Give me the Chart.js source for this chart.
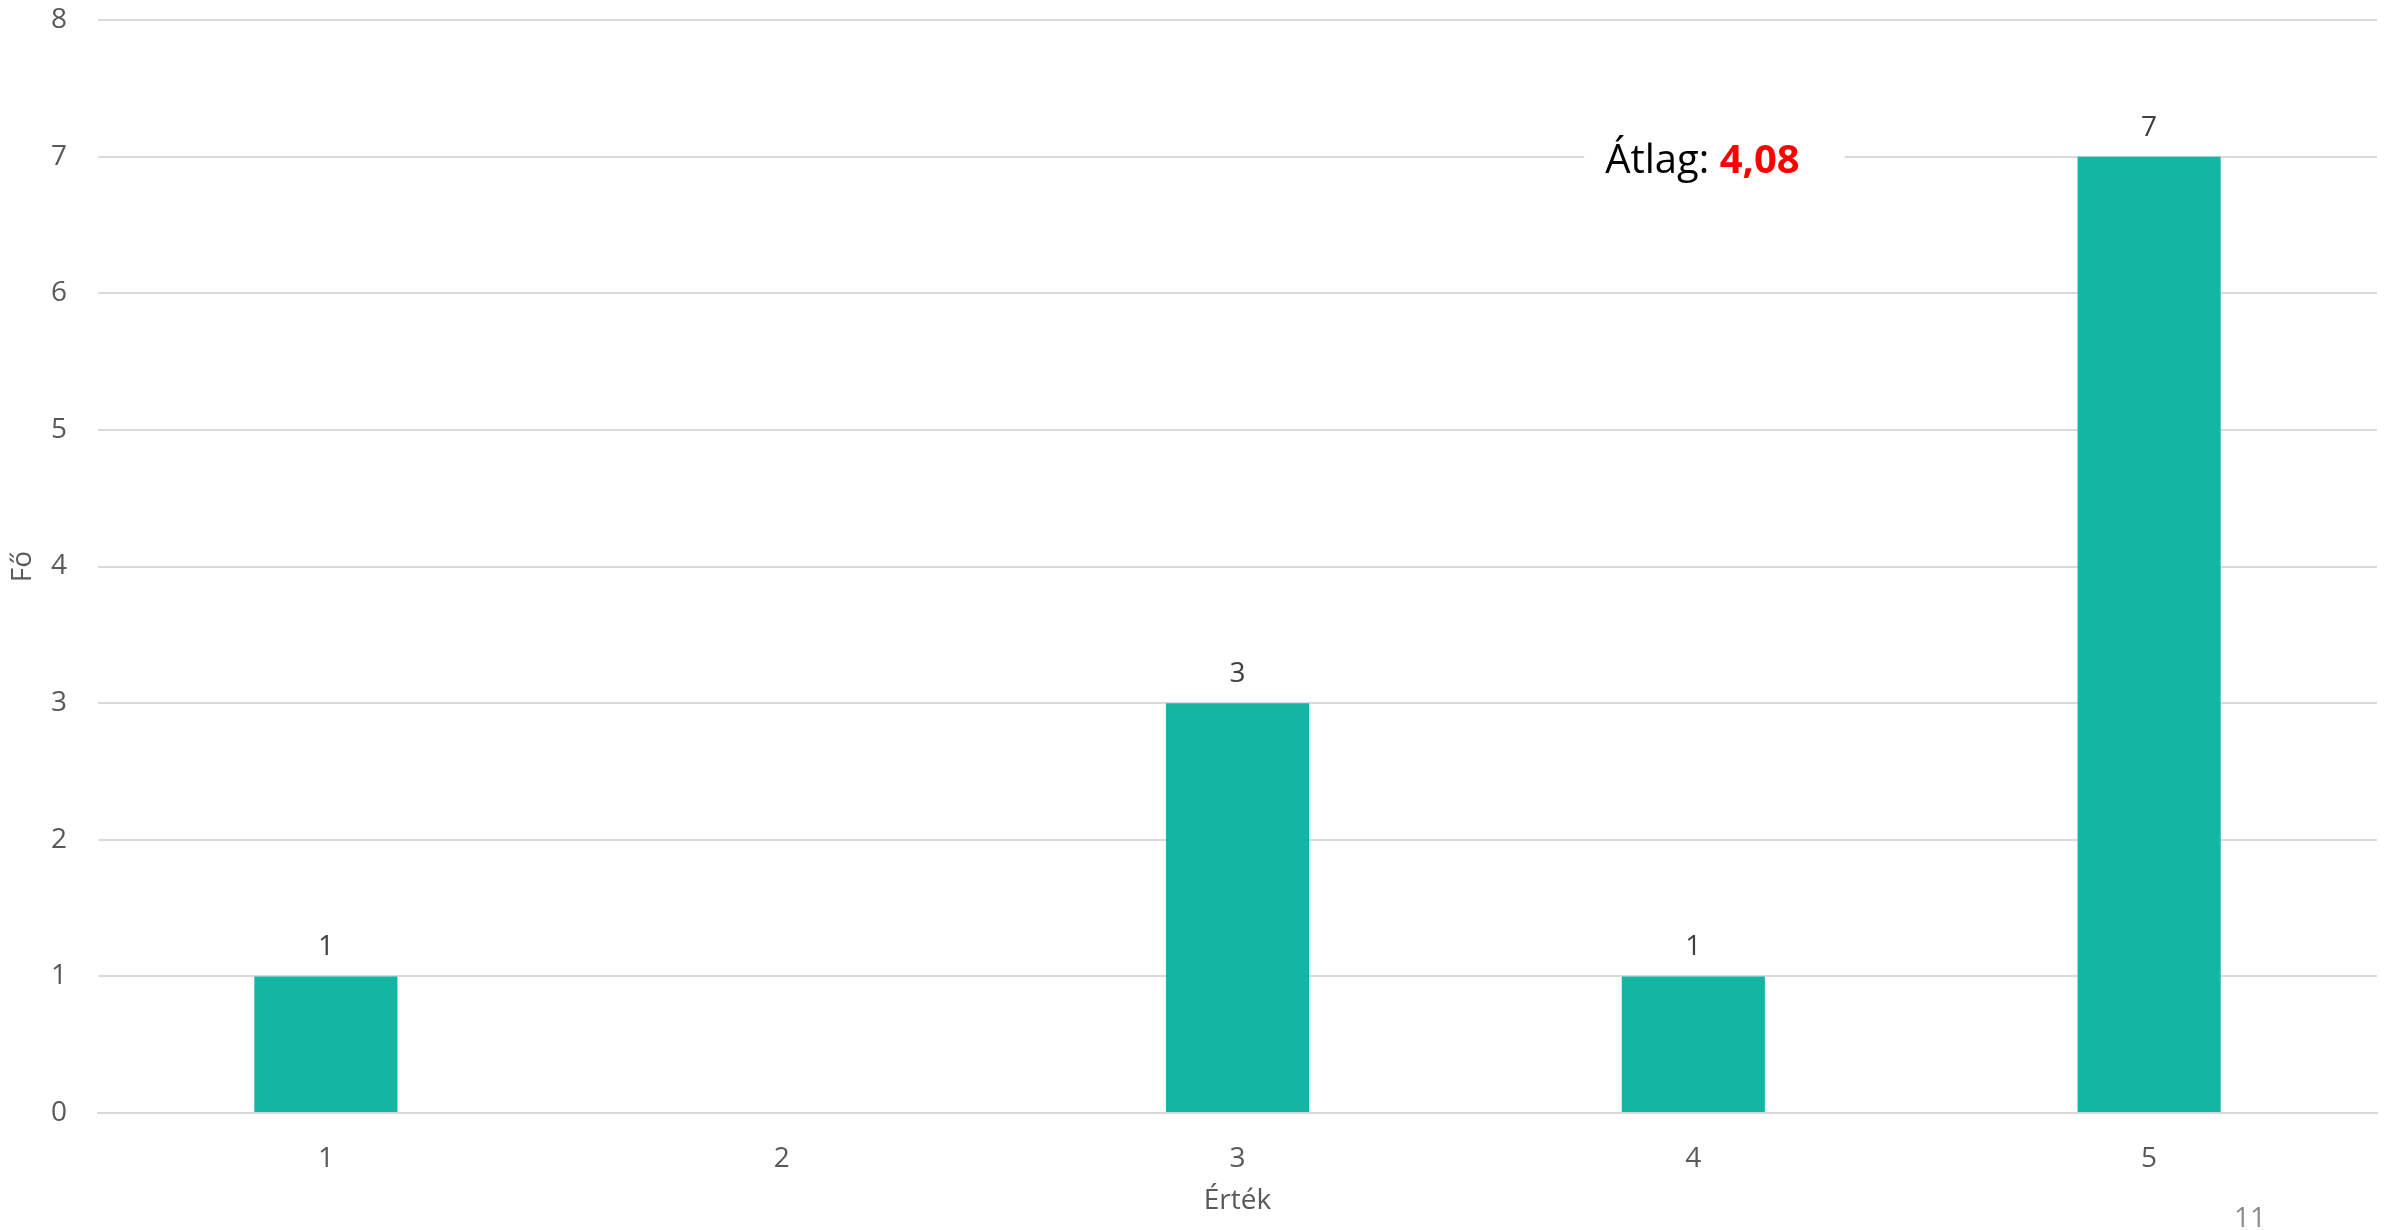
<!DOCTYPE html>
<html>
<head>
<meta charset="utf-8">
<script src="https://cdn.jsdelivr.net/npm/chart.js@4/dist/chart.umd.min.js"></script>
<style>
  body { margin: 0; background: #fff; }
  #wrap { position: relative; width: 2394px; height: 1230px; }
  #pageNo { position: absolute; left: 2234px; top: 1197px; font: 28px "Open Sans", sans-serif; color: #8c8c8c; }
</style>
</head>
<body>
<div id="wrap">
  <canvas id="chart" width="2394" height="1230"></canvas>
  <div id="pageNo">11</div>
</div>
<script>
// chart data
const categories = ['1', '2', '3', '4', '5'];
const counts = [1, 0, 3, 1, 7];
const yTicks = [0, 1, 2, 3, 4, 5, 6, 7, 8];
const avgLabel = 'Átlag: ';
const avgValue = '4,08';
const avgPos = [3.02, 6.96]; // category index, value

const fontFamily = '"Open Sans", sans-serif';

// value labels above bars
const barLabels = {
  id: 'barLabels',
  afterDatasetsDraw(chart) {
    const ctx = chart.ctx;
    const meta = chart.getDatasetMeta(0);
    ctx.save();
    ctx.font = '28px ' + fontFamily;
    ctx.fillStyle = '#404040';
    ctx.textAlign = 'center';
    ctx.textBaseline = 'middle';
    meta.data.forEach((bar, i) => {
      if (!counts[i]) return;
      ctx.fillText(String(counts[i]), bar.x, bar.y - 29);
    });
    ctx.restore();
  }
};

// the "Átlag" box sitting over the grid
const avgBox = {
  id: 'avgBox',
  afterDatasetsDraw(chart) {
    const ctx = chart.ctx;
    const x = chart.scales.x.getPixelForValue(avgPos[0]);
    const y = chart.scales.y.getPixelForValue(avgPos[1]);
    ctx.save();
    const fReg = '40px ' + fontFamily;
    const fBold = 'bold 40px ' + fontFamily;
    ctx.font = fReg;
    const w1 = ctx.measureText(avgLabel).width;
    ctx.font = fBold;
    const w2 = ctx.measureText(avgValue).width;
    const left = x - (w1 + w2) / 2;
    ctx.fillStyle = '#fff';
    ctx.fillRect(left - 21, y - 28, w1 + w2 + 66, 56);
    ctx.textBaseline = 'middle';
    ctx.textAlign = 'left';
    ctx.font = fReg;
    ctx.fillStyle = '#000';
    ctx.fillText(avgLabel, left, y);
    ctx.font = fBold;
    ctx.fillStyle = '#ff0000';
    ctx.fillText(avgValue, left + w1, y);
    ctx.restore();
  }
};

new Chart(document.getElementById('chart'), {
  type: 'bar',
  data: {
    labels: categories,
    datasets: [{
      data: counts,
      backgroundColor: '#14b5a3',
      borderWidth: 0,
      barPercentage: 1,
      categoryPercentage: 0.314
    }]
  },
  options: {
    responsive: false,
    animation: false,
    events: [],
    layout: { padding: { left: 0, right: 17, top: 20, bottom: 0 } },
    plugins: { legend: { display: false }, tooltip: { enabled: false } },
    scales: {
      x: {
        afterFit(scale) { scale.height = 117; scale.paddingLeft = 0; scale.paddingRight = 0; },
        grid: { display: false },
        border: { color: '#d9d9d9', width: 2 },
        ticks: { color: '#595959', padding: 21, font: { family: fontFamily, size: 28 } },
        title: { display: true, text: 'Érték', color: '#595959', padding: { top: 0, bottom: 12 }, font: { family: fontFamily, size: 28 } }
      },
      y: {
        min: yTicks[0],
        max: yTicks[yTicks.length - 1],
        afterFit(scale) { scale.width = 98; scale.paddingTop = 0; scale.paddingBottom = 0; },
        afterBuildTicks(scale) { scale.ticks = yTicks.map(v => ({ value: v })); },
        grid: { color: '#d9d9d9', lineWidth: 2, drawTicks: false },
        border: { display: false },
        ticks: { color: '#595959', padding: 31, font: { family: fontFamily, size: 28 } },
        title: { display: true, text: 'Fő', color: '#595959', padding: { top: 6, bottom: 0 }, font: { family: fontFamily, size: 28 } }
      }
    }
  },
  plugins: [barLabels, avgBox]
});
</script>
</body>
</html>
